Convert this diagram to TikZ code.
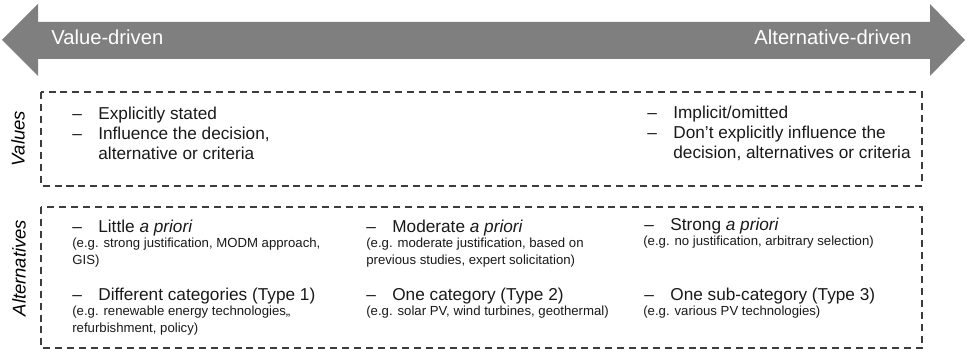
\documentclass[tikz,border=0pt]{standalone}
\usepackage{fontspec}
\setmainfont{Liberation Sans}
\usepackage{xcolor}
\usepackage{tikz}
\usetikzlibrary{positioning}

\definecolor{scalegray}{HTML}{7F7F7F}
\definecolor{boxgray}{HTML}{3C3C3C}
\newcommand{\dashitem}{\makebox[14.8pt][l]{–}}
\newcommand{\stacklines}[1]{\begin{tabular}[t]{@{}l@{}}#1\end{tabular}}

\begin{document}
\begin{tikzpicture}[
      x=0.02cm, y=-0.02cm,
      scalelabel/.style={text=white, inner sep=0pt, anchor=base west,
                         font=\fontsize{11.5}{13}\selectfont},
      sidelabel/.style={rotate=90, inner sep=0pt,
                        font=\fontsize{10.5}{12}\selectfont\itshape},
      dashbox/.style={draw=boxgray, line width=0.8pt, dash pattern=on 4pt off 2.8pt},
      point/.style={anchor=base west, inner sep=0pt, text=black!90,
                    font=\fontsize{9.8}{11.3}\selectfont},
      example/.style={anchor=base west, inner sep=0pt, text=black!90,
                      font=\fontsize{7.5}{9.2}\selectfont},
    ]
    \useasboundingbox (0,0) rectangle (968,354);
    % the scale
    \fill[scalegray] (2,40) -- (38,4) -- (38,22) -- (930,22) -- (930,4) -- (965,40)
      -- (930,76) -- (930,59) -- (38,59) -- (38,76) -- cycle;
    \node[scalelabel] (valdrv) at (51,45) {Value-driven};
    \node[scalelabel, anchor=base east] (altdrv) at (912,45) {Alternative-driven};

    % values
    \draw[dashbox] (41,92) rectangle (922,186);
    \node[sidelabel] (vallabel) at (18,139) {Values};
    \node[point] (explicit) at (72,120) {\stacklines{\dashitem Explicitly stated\\
      \dashitem Influence the decision,\\ \hspace*{14.8pt}alternative or criteria}};
    \node[point] (implicit) at (647,119) {\stacklines{\dashitem Implicit/omitted\\
      \dashitem Don’t explicitly influence the\\ \hspace*{14.8pt}decision, alternatives or criteria}};

    % alternatives
    \draw[dashbox] (41,207) rectangle (922,348);
    \node[sidelabel] (altlabel) at (19,268) {Alternatives};
    \node[point] (little) at (72,233) {\dashitem Little \textit{a priori}};
    \node[example] (littleeg) at (72,248) {\stacklines{(e.g. strong justification, MODM approach,\\GIS)}};
    \node[point] (moderate) at (366,233) {\dashitem Moderate \textit{a priori}};
    \node[example] (moderateeg) at (366,248) {\stacklines{(e.g. moderate justification, based on\\previous studies, expert solicitation)}};
    \node[point] (strong) at (644,231) {\dashitem Strong \textit{a priori}};
    \node[example] (strongeg) at (643,246) {(e.g. no justification, arbitrary selection)};

    \node[point] (type1) at (72,301) {\dashitem Different categories (Type 1)};
    \node[example] (type1eg) at (72,316) {\stacklines{(e.g. renewable energy technologies,,\\refurbishment, policy)}};
    \node[point] (type2) at (366,301) {\dashitem One category (Type 2)};
    \node[example] (type2eg) at (366,316) {(e.g. solar PV, wind turbines, geothermal)};
    \node[point] (type3) at (644,301) {\dashitem One sub-category (Type 3)};
    \node[example] (type3eg) at (643,316) {(e.g. various PV technologies)};
  \end{tikzpicture}
\end{document}
